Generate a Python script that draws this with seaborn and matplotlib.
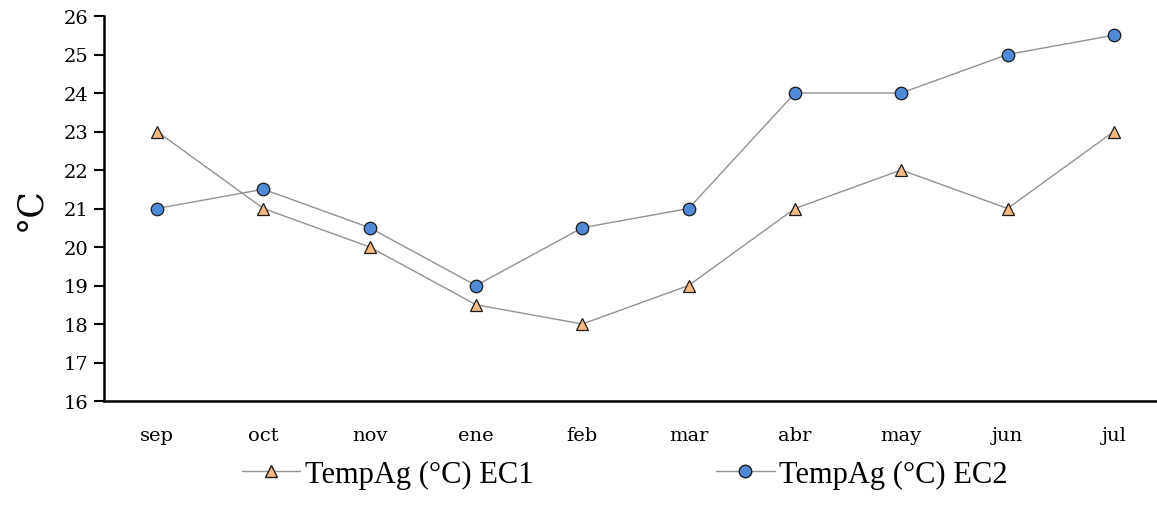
import matplotlib
matplotlib.use("Agg")
import matplotlib.pyplot as plt
import seaborn as sns
import pandas as pd
from matplotlib.lines import Line2D

months = ["sep", "oct", "nov", "ene", "feb", "mar", "abr", "may", "jun", "jul"]
ec1 = [23, 21, 20, 18.5, 18, 19, 21, 22, 21, 23]
ec2 = [21, 21.5, 20.5, 19, 20.5, 21, 24, 24, 25, 25.5]
series_names = ["TempAg (°C) EC1", "TempAg (°C) EC2"]
y_ticks = list(range(16, 27))

sns.set_theme(style="white")
plt.rcParams["font.family"] = ["DejaVu Serif"]
plt.rcParams["text.color"] = "black"
plt.rcParams["xtick.color"] = "black"
plt.rcParams["ytick.color"] = "black"
plt.rcParams["axes.labelcolor"] = "black"

df = pd.DataFrame({
    "pos": list(range(len(months))) * 2,
    "valor": ec1 + ec2,
    "serie": [series_names[0]] * len(months) + [series_names[1]] * len(months),
})

fig = plt.figure(figsize=(11.57, 5.06), dpi=100)
ax = fig.add_axes([104 / 1157, 1 - 402 / 506, (1167 - 104) / 1157, (402 - 17) / 506])

fills = ["#F5B985", "#5089D5"]
sns.lineplot(
    data=df, x="pos", y="valor", hue="serie", style="serie",
    palette=dict(zip(series_names, fills)),
    markers={series_names[0]: "^", series_names[1]: "o"},
    dashes=False, ax=ax, legend=False, markersize=9,
    markeredgecolor="#1a1a1a", markeredgewidth=0.9,
)
for line, fc in zip(ax.get_lines(), fills):
    line.set_color("#929292")
    line.set_linewidth(1.0)
    line.set_markerfacecolor(fc)
    line.set_markeredgecolor("#1a1a1a")

ax.set_xlim(-0.5, len(months) - 0.5)
ax.set_ylim(16, 26)
ax.set_xticks(range(len(months)))
ax.set_xticklabels(months, fontsize=14)
ax.set_yticks(y_ticks)
ax.set_yticklabels([str(t) for t in y_ticks], fontsize=14)
ax.tick_params(axis="y", direction="out", length=7, width=1.5, color="black", pad=4, left=True)
ax.tick_params(axis="x", length=0, pad=18)
ax.set_xlabel("")
ax.set_ylabel("°C", fontsize=25, labelpad=12)

for side in ["top", "right"]:
    ax.spines[side].set_visible(False)
for side in ["left", "bottom"]:
    ax.spines[side].set_color("black")
    ax.spines[side].set_linewidth(1.8)

handles = [
    Line2D([0], [0], color="#929292", lw=1, marker="^", markersize=9,
           markerfacecolor=fills[0], markeredgecolor="#1a1a1a"),
    Line2D([0], [0], color="#929292", lw=1, marker="o", markersize=9,
           markerfacecolor=fills[1], markeredgecolor="#1a1a1a"),
]
fig.legend(handles, series_names, loc="center", bbox_to_anchor=(0.54, 1 - 475 / 506),
           ncol=2, frameon=False, columnspacing=6.0, handlelength=1.9, handletextpad=0.15,
           prop={"family": "Liberation Serif", "size": 22})

fig.savefig("out.png", dpi=100, facecolor="white")
